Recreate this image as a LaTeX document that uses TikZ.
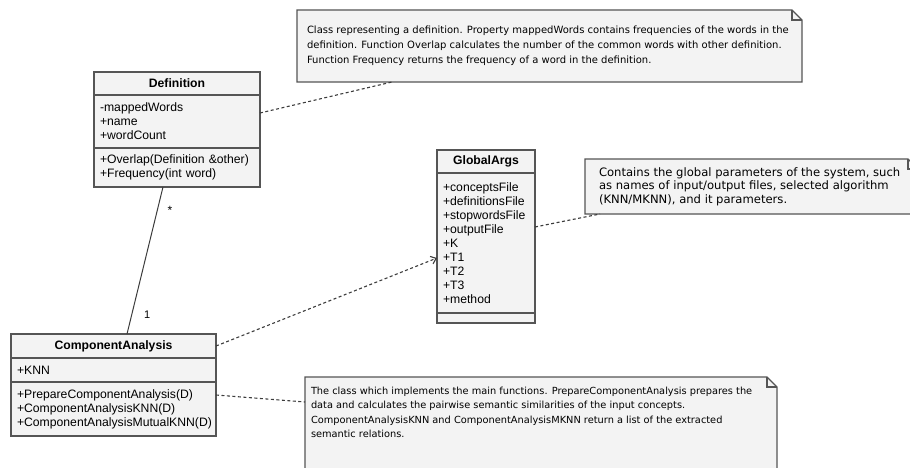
\documentclass[tikz,border=0pt]{standalone}
\usepackage{fontspec}
\setmainfont{DejaVu Sans}
\newfontfamily\classfont{Liberation Sans}
\usepackage{tikz}
\usetikzlibrary{positioning,arrows.meta,backgrounds}

\definecolor{linegray}{RGB}{85,85,85}
\definecolor{boxfill}{RGB}{243,243,243}
\definecolor{conngray}{RGB}{60,60,60}

\tikzstyle{classhead} = [draw=linegray, fill=boxfill, line width=1.1pt,
    rectangle, outer sep=0pt, inner xsep=6pt, inner ysep=0pt, align=center,
    font=\classfont\fontsize{12.2}{14}\selectfont\bfseries]
\tikzstyle{classpart} = [classhead, align=left,
    font=\classfont\fontsize{12.2}{14}\selectfont]
\tikzstyle{notebox} = [rectangle, anchor=north west, inner ysep=10pt, outer sep=0pt]
\tikzstyle{noteline} = [draw=linegray, fill=boxfill, line width=1.1pt]
\tikzstyle{noteconn} = [draw=conngray, line width=1.1pt, dash pattern=on 3pt off 2.5pt]

\newcommand{\notefold}[1]{%
  \begin{scope}[on background layer]
    \filldraw[noteline] (#1.north west) -- ([xshift=-10pt]#1.north east)
      -- ([yshift=-10pt]#1.north east) -- (#1.south east) -- (#1.south west) -- cycle;
    \draw[noteline, fill=none] ([xshift=-10pt]#1.north east) |- ([yshift=-10pt]#1.north east);
  \end{scope}}

\begin{document}
\begin{tikzpicture}[x=1pt, y=-1pt]
\useasboundingbox (0,0) rectangle (910,468);

% class Definition
\node [classhead, anchor=north west, text width=154pt, minimum height=23pt] (defhead) at (94,72) {Definition};
\node [classpart, below=0pt of defhead, text width=154pt, minimum height=53pt] (defattr)
    {-mappedWords\\+name\\+wordCount};
\node [classpart, below=0pt of defattr, text width=154pt, minimum height=39pt] (defops)
    {+Overlap(Definition \&other)\\+Frequency(int word)};

% class GlobalArgs
\node [classhead, anchor=north west, text width=86pt, minimum height=23pt] (gahead) at (437,150) {GlobalArgs};
\node [classpart, below=0pt of gahead, text width=86pt, minimum height=140pt] (gaattr)
    {+conceptsFile\\+definitionsFile\\+stopwordsFile\\+outputFile\\+K\\+T1\\+T2\\+T3\\+method};
\node [classpart, below=0pt of gaattr, text width=86pt, minimum height=10pt] (gaops) {};

% class ComponentAnalysis
\node [classhead, anchor=north west, text width=193pt, minimum height=24pt] (cahead) at (11,334) {ComponentAnalysis};
\node [classpart, below=0pt of cahead, text width=193pt, minimum height=24pt] (caattr) {+KNN};
\node [classpart, below=0pt of caattr, text width=193pt, minimum height=54pt] (caops)
    {+PrepareComponentAnalysis(D)\\+ComponentAnalysisKNN(D)\\+ComponentAnalysisMutualKNN(D)};

% notes
\node [notebox, inner xsep=10pt, font=\fontsize{10}{15}\selectfont] (note1) at (297,10) {%
    \begin{minipage}[c][52pt][c]{485pt}\raggedright
      Class representing a definition. Property mappedWords contains frequencies of the words in the\\
      definition. Function Overlap calculates the number of the common words with other definition.\\
      Function Frequency returns the frequency of a word in the definition.
    \end{minipage}
};
\notefold{note1}

\node [notebox, inner xsep=14pt, font=\fontsize{11.6}{13.6}\selectfont] (note2) at (585,159) {%
    \begin{minipage}[c][35pt][c]{305pt}\raggedright
      Contains the global parameters of the system, such\\
      as names of input/output files, selected algorithm\\
      (KNN/MKNN), and it parameters.
    \end{minipage}
};
\notefold{note2}

\node [notebox, inner xsep=6pt, font=\fontsize{9.8}{14.3}\selectfont] (note3) at (305,377) {%
    \begin{minipage}[t][95pt][t]{460pt}\raggedright
      The class which implements the main functions. PrepareComponentAnalysis prepares the\\
      data and calculates the pairwise semantic similarities of the input concepts.\\
      ComponentAnalysisKNN and ComponentAnalysisMKNN return a list of the extracted\\
      semantic relations.
    \end{minipage}
};
\notefold{note3}

% connectors
\draw [draw=conngray, line width=1pt] ([xshift=-14pt]defops.south) -- ([xshift=13.5pt]cahead.north)
    node [pos=0.16, right=10pt, inner sep=0pt, font=\classfont\fontsize{12}{14}\selectfont] (many) {*}
    node [pos=0.87, right=12pt, inner sep=0pt, font=\classfont\fontsize{11}{14}\selectfont] (one) {1};
\draw [noteconn] ([yshift=8.5pt]defattr.east) -- ([xshift=95pt]note1.south west);
\draw [noteconn, -{Straight Barb[length=5pt,width=8pt]}] (cahead.east) -- ([yshift=-15pt]gaattr.west);
\draw [noteconn] ([yshift=16pt]gaattr.east) -- ([xshift=15pt]note2.south west);
\draw [noteconn] ([yshift=14pt]caops.east) -- ([yshift=-25pt]note3.north west);

\end{tikzpicture}
\end{document}
